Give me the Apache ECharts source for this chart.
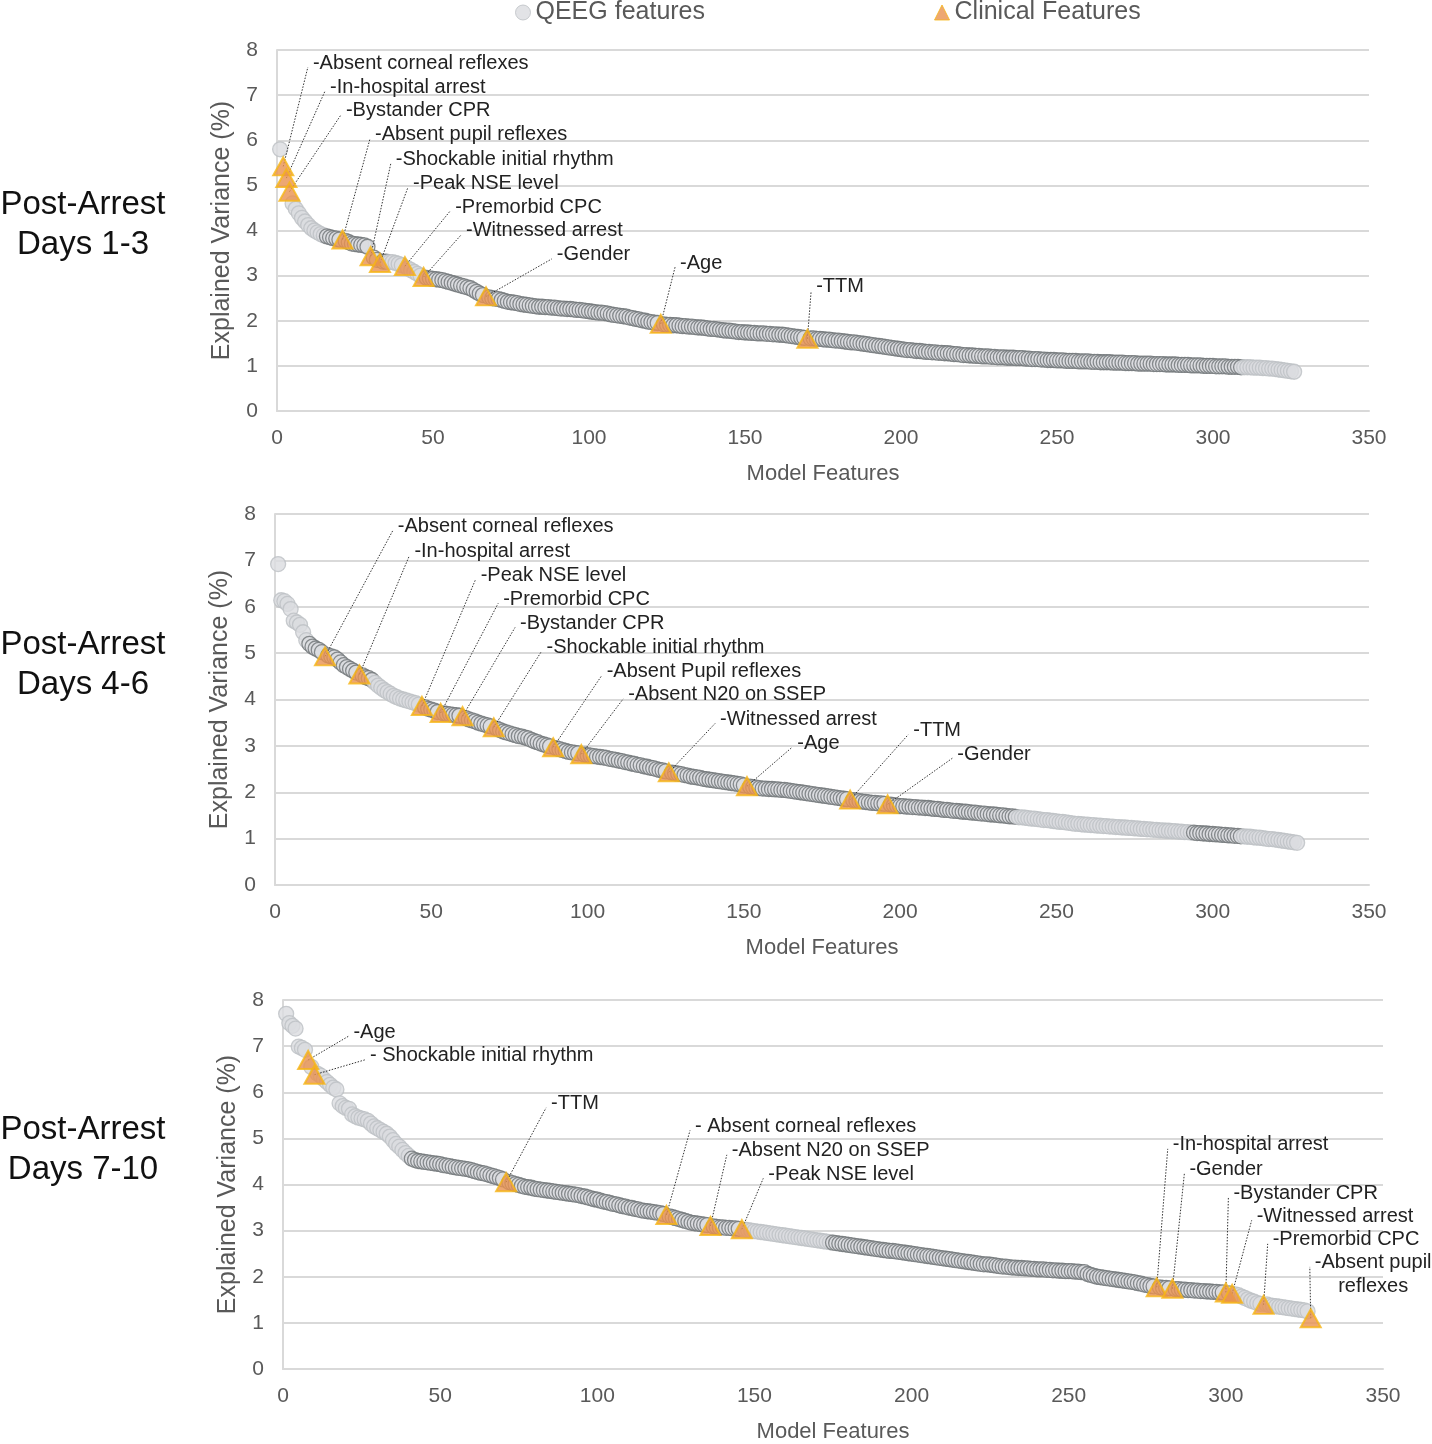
<!DOCTYPE html>
<html>
<head>
<meta charset="utf-8">
<title>Explained variance by model feature</title>
<script src="https://cdn.jsdelivr.net/npm/echarts@6/dist/echarts.min.js"></script>
<style>
  html, body { margin: 0; padding: 0; background: #fff; }
  #chart { width: 1432px; height: 1444px; }
</style>
</head>
<body>
<div id="chart"></div>
<script>
// ---- data ----
const xTicks = [0, 50, 100, 150, 200, 250, 300, 350];
const yTicks = [0, 1, 2, 3, 4, 5, 6, 7, 8];
const panelTitles = ['Post-Arrest\nDays 1-3', 'Post-Arrest\nDays 4-6', 'Post-Arrest\nDays 7-10'];

// QEEG explained variance by rank (index 0 = rank 1); null = rank held by a clinical feature
const qeeg1 = [
  5.80, null, null, null, 4.60, 4.48, 4.38, 4.28, 4.20, 4.12,
  4.05, 4.00, 3.96, 3.92, 3.89, 3.87, 3.85, 3.83, 3.82, 3.80,
  null, 3.77, 3.74, 3.71, 3.70, 3.69, 3.68, 3.67, 3.64, null,
  3.40, 3.35, null, 3.31, 3.31, 3.30, 3.30, 3.28, 3.26, 3.23,
  null, 3.16, 3.12, 3.08, 3.04, 3.00, null, 2.95, 2.94, 2.93,
  2.92, 2.91, 2.90, 2.88, 2.86, 2.84, 2.82, 2.80, 2.78, 2.76,
  2.74, 2.72, 2.68, 2.64, 2.60, 2.57, null, 2.52, 2.50, 2.49,
  2.48, 2.46, 2.44, 2.42, 2.41, 2.40, 2.39, 2.37, 2.36, 2.35,
  2.34, 2.33, 2.32, 2.31, 2.31, 2.30, 2.30, 2.29, 2.29, 2.28,
  2.27, 2.27, 2.26, 2.26, 2.25, 2.24, 2.24, 2.23, 2.22, 2.21,
  2.20, 2.19, 2.18, 2.18, 2.17, 2.16, 2.14, 2.13, 2.12, 2.11,
  2.10, 2.09, 2.07, 2.06, 2.04, 2.03, 2.01, 2.00, 1.98, 1.97,
  1.96, 1.95, null, 1.92, 1.91, 1.91, 1.90, 1.90, 1.89, 1.88,
  1.88, 1.87, 1.87, 1.86, 1.85, 1.85, 1.84, 1.83, 1.82, 1.82,
  1.81, 1.80, 1.79, 1.78, 1.78, 1.77, 1.76, 1.75, 1.75, 1.74,
  1.74, 1.73, 1.73, 1.72, 1.72, 1.72, 1.71, 1.71, 1.70, 1.70,
  1.69, 1.69, 1.68, 1.67, 1.66, 1.65, 1.64, 1.63, 1.62, null,
  1.61, 1.61, 1.60, 1.60, 1.59, 1.58, 1.58, 1.57, 1.56, 1.56,
  1.55, 1.54, 1.53, 1.52, 1.52, 1.51, 1.50, 1.49, 1.48, 1.47,
  1.46, 1.45, 1.44, 1.43, 1.42, 1.41, 1.40, 1.39, 1.38, 1.37,
  1.36, 1.35, 1.35, 1.34, 1.33, 1.33, 1.32, 1.31, 1.31, 1.30,
  1.30, 1.29, 1.29, 1.28, 1.28, 1.27, 1.26, 1.26, 1.25, 1.24,
  1.24, 1.23, 1.23, 1.22, 1.22, 1.21, 1.21, 1.21, 1.20, 1.20,
  1.19, 1.19, 1.19, 1.18, 1.18, 1.18, 1.17, 1.17, 1.17, 1.16,
  1.16, 1.15, 1.15, 1.15, 1.14, 1.14, 1.13, 1.13, 1.13, 1.12,
  1.12, 1.12, 1.11, 1.11, 1.11, 1.11, 1.10, 1.10, 1.10, 1.10,
  1.09, 1.09, 1.09, 1.08, 1.08, 1.08, 1.08, 1.07, 1.07, 1.07,
  1.07, 1.06, 1.06, 1.06, 1.06, 1.05, 1.05, 1.05, 1.05, 1.05,
  1.04, 1.04, 1.04, 1.04, 1.03, 1.03, 1.03, 1.03, 1.02, 1.02,
  1.02, 1.02, 1.01, 1.01, 1.01, 1.01, 1.00, 1.00, 1.00, 1.00,
  0.99, 0.99, 0.99, 0.99, 0.98, 0.98, 0.98, 0.98, 0.97, 0.97,
  0.97, 0.97, 0.96, 0.96, 0.96, 0.95, 0.95, 0.94, 0.94, 0.93,
  0.92, 0.91, 0.90, 0.89, 0.88, 0.87
];
const qeeg2 = [
  6.92, 6.14, 6.12, 6.06, 5.95, 5.70, 5.66, 5.61, 5.45, 5.28,
  5.20, 5.14, 5.10, 5.07, 5.02, null, 4.95, 4.93, 4.91, 4.86,
  4.80, 4.74, 4.70, 4.66, 4.62, 4.58, null, 4.52, 4.48, 4.46,
  4.42, 4.36, 4.30, 4.25, 4.20, 4.16, 4.12, 4.08, 4.05, 4.02,
  4.00, 3.98, 3.96, 3.94, 3.92, 3.89, null, 3.83, 3.80, 3.78,
  3.76, 3.73, null, 3.70, 3.69, 3.68, 3.67, 3.66, 3.65, null,
  3.60, 3.57, 3.55, 3.53, 3.50, 3.48, 3.46, 3.44, 3.42, null,
  3.37, 3.34, 3.31, 3.29, 3.27, 3.25, 3.23, 3.21, 3.20, 3.18,
  3.16, 3.13, 3.10, 3.08, 3.05, 3.03, 3.01, 2.99, null, 2.95,
  2.93, 2.91, 2.89, 2.87, 2.86, 2.85, 2.84, null, 2.81, 2.80,
  2.79, 2.78, 2.77, 2.76, 2.75, 2.74, 2.72, 2.71, 2.70, 2.68,
  2.67, 2.65, 2.64, 2.62, 2.61, 2.59, 2.58, 2.56, 2.55, 2.53,
  2.52, 2.50, 2.48, 2.47, 2.45, null, 2.42, 2.41, 2.40, 2.39,
  2.37, 2.36, 2.34, 2.33, 2.32, 2.31, 2.29, 2.28, 2.27, 2.26,
  2.25, 2.24, 2.23, 2.22, 2.21, 2.20, 2.19, 2.18, 2.17, 2.15,
  null, 2.12, 2.11, 2.10, 2.09, 2.08, 2.08, 2.07, 2.07, 2.06,
  2.06, 2.05, 2.05, 2.04, 2.03, 2.02, 2.01, 2.00, 1.99, 1.98,
  1.97, 1.96, 1.95, 1.94, 1.93, 1.92, 1.91, 1.90, 1.89, 1.88,
  1.87, 1.86, 1.85, null, 1.83, 1.82, 1.81, 1.80, 1.79, 1.78,
  1.77, 1.77, 1.76, 1.76, 1.75, null, 1.73, 1.72, 1.71, 1.70,
  1.70, 1.69, 1.69, 1.68, 1.68, 1.67, 1.67, 1.66, 1.66, 1.65,
  1.64, 1.64, 1.63, 1.62, 1.62, 1.61, 1.60, 1.60, 1.59, 1.58,
  1.58, 1.57, 1.56, 1.56, 1.55, 1.54, 1.54, 1.53, 1.52, 1.52,
  1.51, 1.50, 1.50, 1.49, 1.48, 1.48, 1.47, 1.46, 1.46, 1.45,
  1.44, 1.43, 1.43, 1.42, 1.41, 1.40, 1.40, 1.39, 1.38, 1.37,
  1.36, 1.36, 1.35, 1.34, 1.33, 1.32, 1.32, 1.31, 1.30, 1.30,
  1.29, 1.29, 1.28, 1.28, 1.27, 1.27, 1.26, 1.26, 1.25, 1.25,
  1.24, 1.24, 1.23, 1.23, 1.22, 1.22, 1.21, 1.21, 1.20, 1.20,
  1.19, 1.19, 1.18, 1.18, 1.17, 1.17, 1.16, 1.16, 1.15, 1.15,
  1.14, 1.14, 1.13, 1.13, 1.12, 1.12, 1.11, 1.11, 1.10, 1.10,
  1.09, 1.09, 1.08, 1.08, 1.07, 1.07, 1.06, 1.06, 1.05, 1.05,
  1.04, 1.04, 1.03, 1.02, 1.02, 1.01, 1.00, 0.99, 0.99, 0.98,
  0.97, 0.96, 0.95, 0.94, 0.93, 0.92, 0.91
];
const qeeg3 = [
  7.70, 7.50, 7.44, 7.38, 6.99, 6.96, 6.92, null, 6.55, null,
  6.40, 6.36, 6.28, 6.22, 6.16, 6.10, 6.06, 5.76, 5.70, 5.66,
  5.64, 5.52, 5.48, 5.45, 5.43, 5.41, 5.38, 5.32, 5.26, 5.22,
  5.18, 5.14, 5.10, 5.04, 4.96, 4.88, 4.82, 4.75, 4.68, 4.62,
  4.56, 4.53, 4.51, 4.50, 4.49, 4.48, 4.47, 4.46, 4.45, 4.44,
  4.42, 4.41, 4.40, 4.38, 4.37, 4.36, 4.35, 4.34, 4.33, 4.31,
  4.29, 4.27, 4.25, 4.24, 4.22, 4.20, 4.18, 4.16, 4.14, 4.11,
  null, 4.05, 4.03, 4.01, 3.99, 3.97, 3.95, 3.94, 3.93, 3.91,
  3.90, 3.89, 3.88, 3.87, 3.86, 3.85, 3.84, 3.83, 3.82, 3.81,
  3.80, 3.79, 3.78, 3.77, 3.75, 3.74, 3.72, 3.70, 3.68, 3.67,
  3.65, 3.63, 3.62, 3.60, 3.58, 3.57, 3.55, 3.53, 3.52, 3.50,
  3.49, 3.47, 3.46, 3.44, 3.43, 3.42, 3.41, 3.40, 3.39, 3.38,
  3.36, null, 3.31, 3.29, 3.27, 3.25, 3.23, 3.21, 3.19, 3.17,
  3.16, 3.15, 3.14, 3.13, 3.12, null, 3.09, 3.08, 3.07, 3.07,
  3.06, 3.06, 3.05, 3.05, 3.04, null, 3.02, 3.01, 3.00, 2.99,
  2.98, 2.97, 2.96, 2.95, 2.94, 2.93, 2.92, 2.91, 2.90, 2.89,
  2.88, 2.87, 2.86, 2.85, 2.84, 2.83, 2.82, 2.81, 2.80, 2.79,
  2.78, 2.77, 2.76, 2.75, 2.74, 2.73, 2.72, 2.71, 2.70, 2.69,
  2.68, 2.67, 2.66, 2.65, 2.64, 2.63, 2.62, 2.61, 2.60, 2.59,
  2.58, 2.57, 2.56, 2.56, 2.55, 2.54, 2.53, 2.52, 2.51, 2.50,
  2.49, 2.48, 2.47, 2.46, 2.45, 2.44, 2.43, 2.42, 2.41, 2.40,
  2.39, 2.38, 2.37, 2.36, 2.35, 2.34, 2.33, 2.32, 2.31, 2.30,
  2.29, 2.28, 2.27, 2.27, 2.26, 2.25, 2.24, 2.23, 2.22, 2.22,
  2.21, 2.20, 2.20, 2.19, 2.19, 2.18, 2.18, 2.17, 2.17, 2.16,
  2.16, 2.16, 2.15, 2.15, 2.14, 2.14, 2.13, 2.13, 2.12, 2.12,
  2.12, 2.11, 2.11, 2.10, 2.10, 2.06, 2.04, 2.02, 2.00, 1.99,
  1.98, 1.97, 1.96, 1.95, 1.94, 1.93, 1.92, 1.91, 1.90, 1.89,
  1.88, 1.86, 1.85, 1.83, 1.82, 1.80, 1.79, null, 1.77, 1.76,
  1.76, 1.75, null, 1.73, 1.73, 1.72, 1.72, 1.71, 1.71, 1.70,
  1.70, 1.69, 1.69, 1.68, 1.68, 1.67, 1.67, 1.66, 1.66, null,
  1.64, null, 1.62, 1.60, 1.57, 1.54, 1.51, 1.48, 1.46, 1.43,
  1.41, null, 1.40, 1.38, 1.37, 1.36, 1.35, 1.34, 1.33, 1.32,
  1.31, 1.30, 1.29, 1.28, 1.27, 1.25
];

// rank ranges whose QEEG markers are drawn without the dark outline
const plainRanges1 = [[1, 15], [36, 46], [310, 326]];
const plainRanges2 = [[1, 10], [32, 46], [238, 293], [310, 327]];
const plainRanges3 = [[1, 40], [147, 174], [303, 326]];

// clinical features: label text, rank, explained variance
const clinNames1 = ['-Absent corneal reflexes', '-In-hospital arrest', '-Bystander CPR', '-Absent pupil reflexes',
  '-Shockable initial rhythm', '-Peak NSE level', '-Premorbid CPC', '-Witnessed arrest', '-Gender', '-Age', '-TTM'];
const clinRanks1 = [2, 3, 4, 21, 30, 33, 41, 47, 67, 123, 170];
const clinValues1 = [5.42, 5.16, 4.86, 3.80, 3.43, 3.28, 3.21, 2.97, 2.54, 1.93, 1.60];

const clinNames2 = ['-Absent corneal reflexes', '-In-hospital arrest', '-Peak NSE level', '-Premorbid CPC',
  '-Bystander CPR', '-Shockable initial rhythm', '-Absent Pupil reflexes', '-Absent N20 on SSEP',
  '-Witnessed arrest', '-Age', '-TTM', '-Gender'];
const clinRanks2 = [16, 27, 47, 53, 60, 70, 89, 98, 126, 151, 184, 196];
const clinValues2 = [4.93, 4.54, 3.86, 3.71, 3.64, 3.40, 2.97, 2.82, 2.43, 2.13, 1.84, 1.74];

const clinNames3 = ['-Age', '- Shockable initial rhythm', '-TTM', '- Absent corneal reflexes', '-Absent N20 on SSEP',
  '-Peak NSE level', '-In-hospital arrest', '-Gender', '-Bystander CPR', '-Witnessed arrest', '-Premorbid CPC',
  '-Absent pupil\nreflexes'];
const clinRanks3 = [8, 10, 71, 122, 136, 146, 278, 283, 300, 302, 312, 327];
const clinValues3 = [6.70, 6.38, 4.05, 3.34, 3.10, 3.03, 1.77, 1.74, 1.66, 1.63, 1.39, 1.10];

// ---- layout ----
const FONT = '"Liberation Sans", Arial, sans-serif';
const LABEL_FONT = '20px ' + FONT;
const grids = [
  { left: 277, top: 50, width: 1092, height: 361 },
  { left: 275, top: 514, width: 1094, height: 371 },
  { left: 283, top: 1000, width: 1100, height: 374 }
];
const titleCenterY = [225, 665, 1150];
// where each callout text starts (axis units)
const callouts = [
  [[11.5, 7.71], [17.0, 7.18], [22.1, 6.65], [31.4, 6.12], [38.1, 5.58], [43.6, 5.05], [57.1, 4.52],
   [60.6, 3.99], [89.7, 3.46], [129.2, 3.28], [172.8, 2.75]],
  [[39.3, 7.73], [44.6, 7.19], [65.8, 6.68], [73.0, 6.16], [78.4, 5.64], [86.9, 5.13], [106.1, 4.60],
   [113.0, 4.10], [142.4, 3.57], [167.1, 3.06], [204.2, 3.33], [218.3, 2.82]],
  [[22.4, 7.30], [27.7, 6.79], [85.3, 5.75], [131.1, 5.26], [142.8, 4.73], [154.4, 4.22], [283.1, 4.86],
   [288.4, 4.33], [302.4, 3.81], [309.8, 3.31], [314.9, 2.80], [328.3, 2.30]]
];

const FILL = '#dbdce0';
const outlined = { color: FILL, borderColor: '#6f7477', borderWidth: 1.3 };
const plain = { color: FILL, borderColor: '#bdc0c4', borderWidth: 1.3 };

const measureCtx = document.createElement('canvas').getContext('2d');
measureCtx.font = LABEL_FONT;

function qeegItems(values, ranges) {
  const items = [];
  values.forEach((v, i) => {
    if (v == null) return;
    const rank = i + 1;
    const isPlain = ranges.some(r => rank >= r[0] && rank <= r[1]);
    items.push({ value: [rank, v], itemStyle: isPlain ? plain : outlined });
  });
  return items;
}

function calloutRenderer(names) {
  return function (params, api) {
    const p = api.coord([api.value(0), api.value(1)]);
    const q = api.coord([api.value(2), api.value(3)]);
    const text = names[params.dataIndex];
    const lines = text.split('\n');
    const centered = lines.length > 1;
    const tx = centered ? q[0] + measureCtx.measureText(lines[0]).width / 2 : q[0];
    return {
      type: 'group',
      children: [
        {
          type: 'line',
          shape: { x1: p[0], y1: p[1], x2: q[0] - 5, y2: q[1] + 4 },
          style: { stroke: '#333', lineWidth: 1, lineDash: [1.5, 1.5] }
        },
        {
          type: 'text',
          x: tx, y: q[1] - 12,
          style: {
            text: text, font: LABEL_FONT, fill: '#222', lineHeight: 24,
            align: centered ? 'center' : 'left', verticalAlign: 'top'
          }
        }
      ]
    };
  };
}

const qeegSets = [qeeg1, qeeg2, qeeg3];
const plainSets = [plainRanges1, plainRanges2, plainRanges3];
const clinSets = [
  [clinNames1, clinRanks1, clinValues1],
  [clinNames2, clinRanks2, clinValues2],
  [clinNames3, clinRanks3, clinValues3]
];

const xAxes = [], yAxes = [], series = [];
grids.forEach((g, i) => {
  xAxes.push({
    type: 'value', gridIndex: i,
    min: xTicks[0], max: xTicks[xTicks.length - 1], interval: xTicks[1] - xTicks[0],
    name: 'Model Features', nameLocation: 'middle', nameGap: 52,
    nameTextStyle: { fontSize: 22, color: '#595959', fontFamily: FONT },
    axisLine: { show: true, lineStyle: { color: '#d9d9d9', width: 2 } },
    axisTick: { show: false },
    axisLabel: { fontSize: 21, color: '#595959', margin: 17, fontFamily: FONT },
    splitLine: { show: false }
  });
  yAxes.push({
    type: 'value', gridIndex: i,
    min: yTicks[0], max: yTicks[yTicks.length - 1], interval: yTicks[1] - yTicks[0],
    name: 'Explained Variance (%)', nameLocation: 'middle', nameGap: 42, nameRotate: 90,
    nameTextStyle: { fontSize: 25, color: '#595959', fontFamily: FONT },
    axisLine: { show: true, lineStyle: { color: '#d9d9d9', width: 2 } },
    axisTick: { show: false },
    axisLabel: { fontSize: 21, color: '#595959', margin: 19, fontFamily: FONT },
    splitLine: { lineStyle: { color: '#d9d9d9', width: 2 } }
  });

  const [names, ranks, values] = clinSets[i];
  series.push({
    name: 'QEEG features', type: 'scatter', xAxisIndex: i, yAxisIndex: i,
    symbol: 'circle', symbolSize: 15, z: 2,
    data: qeegItems(qeegSets[i], plainSets[i])
  });
  series.push({
    type: 'custom', xAxisIndex: i, yAxisIndex: i, z: 3, silent: true,
    renderItem: calloutRenderer(names),
    data: ranks.map((r, k) => [r, values[k], callouts[i][k][0], callouts[i][k][1]])
  });
  series.push({
    name: 'Clinical Features', type: 'scatter', xAxisIndex: i, yAxisIndex: i,
    symbol: 'triangle', symbolSize: [20, 18], z: 4,
    itemStyle: { color: '#e8914f', borderColor: '#f6b515', borderWidth: 2 },
    data: ranks.map((r, k) => [r, values[k]])
  });
});

const chart = echarts.init(document.getElementById('chart'));
chart.setOption({
  animation: false,
  backgroundColor: '#fff',
  textStyle: { fontFamily: FONT },
  legend: {
    top: -5, left: 510, itemGap: 229, itemWidth: 15, itemHeight: 15,
    textStyle: { fontSize: 25, color: '#595959', fontFamily: FONT },
    data: [
      { name: 'QEEG features', icon: 'circle', itemStyle: { color: FILL, borderColor: '#bdc0c4', borderWidth: 1 } },
      { name: 'Clinical Features', icon: 'triangle', itemStyle: { color: '#e8914f', borderColor: '#f6b515', borderWidth: 1 } }
    ]
  },
  grid: grids,
  xAxis: xAxes,
  yAxis: yAxes,
  series: series,
  graphic: panelTitles.map((t, i) => ({
    type: 'text', x: 83, y: titleCenterY[i],
    style: {
      text: t, font: '33px ' + FONT, fill: '#111', lineHeight: 40,
      align: 'center', verticalAlign: 'middle'
    }
  }))
});
</script>
</body>
</html>
